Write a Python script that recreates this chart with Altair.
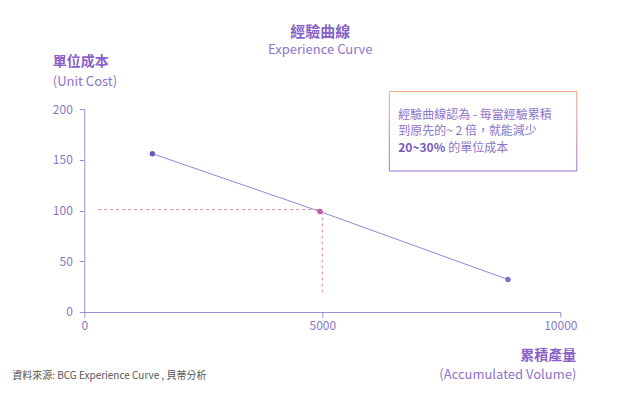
import altair as alt
import pandas as pd

# ---- data ----
volume = [1430, 4950, 8900]
unit_cost = [156, 99, 32]
point_id = ["a", "b", "c"]

guide_h_x = [290, 4950]
guide_h_y = [101]
guide_v_x = [5000]
guide_v_y = [99, 17]

x_ticks = [0, 5000, 10000]
y_ticks = [0, 50, 100, 150, 200]

title_main = "經驗曲線"
title_sub = "Experience Curve"
y_title_1 = "單位成本"
y_title_2 = "(Unit Cost)"
x_title_1 = "累積產量"
x_title_2 = "(Accumulated Volume)"
source_text = "資料來源: BCG Experience Curve , 貝蒂分析"
note_line1 = "經驗曲線認為 - 每當經驗累積"
note_line2 = "到原先的~ 2 倍，就能減少"
note_line3a = "20~30%"
note_line3b = "的單位成本"

FONT = "Noto Sans CJK TC"
AX = "#9a8cd2"
LBL = "#8677c6"
PURPLE = "#8a66c8"

df = pd.DataFrame({"volume": volume, "cost": unit_cost, "pid": point_id})
dfh = pd.DataFrame({"x": [guide_h_x[0]], "x2": [guide_h_x[1]], "y": guide_h_y})
dfv = pd.DataFrame({"x": guide_v_x, "y": [guide_v_y[0]], "y2": [guide_v_y[1]]})

xscale = alt.Scale(domain=[0, 10000], nice=False)
yscale = alt.Scale(domain=[0, 200], nice=False)

xaxis = alt.Axis(values=x_ticks, grid=False, title=None, domainColor=AX, tickColor=AX,
                 labelColor=LBL, labelFontSize=12, labelFont=FONT, tickSize=5,
                 labelPadding=4, labelFlush=False, format="d")
yaxis = alt.Axis(values=y_ticks, grid=False, title=None, domainColor=AX, tickColor=AX,
                 labelColor=LBL, labelFontSize=12, labelFont=FONT, tickSize=5,
                 labelPadding=7, format="d")

base = alt.Chart(df)

line = base.mark_line(color="#9486d4", strokeWidth=1).encode(
    x=alt.X("volume:Q", scale=xscale, axis=xaxis),
    y=alt.Y("cost:Q", scale=yscale, axis=yaxis),
)

hguide = alt.Chart(dfh).mark_rule(color="#e48aa8", strokeDash=[3, 3], strokeWidth=1).encode(
    x=alt.X("x:Q", scale=xscale), x2="x2:Q", y=alt.Y("y:Q", scale=yscale)
)
vguide = alt.Chart(dfv).mark_rule(color="#e48aa8", strokeDash=[3, 3], strokeWidth=1).encode(
    x=alt.X("x:Q", scale=xscale), y=alt.Y("y:Q", scale=yscale), y2="y2:Q"
)

points = base.mark_circle(size=30, opacity=1).encode(
    x=alt.X("volume:Q", scale=xscale),
    y=alt.Y("cost:Q", scale=yscale),
    color=alt.Color("pid:N", scale=alt.Scale(domain=point_id,
                    range=["#6d58c4", "#c25ab4", "#7f6dd0"]), legend=None),
)

one = pd.DataFrame({"k": [0]})


def txt(s, x, y, size=13, bold=False, color=PURPLE, align="left"):
    return alt.Chart(one).mark_text(
        font=FONT, fontSize=size, fontWeight="bold" if bold else "normal",
        color=color, align=align, baseline="middle"
    ).encode(x=alt.value(x), y=alt.value(y), text=alt.value(s))


grad = alt.LinearGradient(
    gradient="linear",
    stops=[alt.GradientStop(color="#f2a882", offset=0),
           alt.GradientStop(color="#9a72c8", offset=1)],
    x1=0, x2=0, y1=0, y2=1,
)
box = alt.Chart(one).mark_rect(fill="white", stroke=grad, strokeWidth=1).encode(
    x=alt.value(305), x2=alt.value(492.5), y=alt.value(-17.5), y2=alt.value(62)
)

texts = [
    txt(title_main, 236, -77.5, size=15, bold=True, color="#8463c6", align="center"),
    txt(title_sub, 236, -59, size=13, color="#8d74cc", align="center"),
    txt(y_title_1, -31.5, -47, size=14, bold=True, color="#8a62c8"),
    txt(y_title_2, -31.5, -27, size=13, color="#8d74cc"),
    txt(x_title_1, 492, 247, size=14, bold=True, color="#8a62c8", align="right"),
    txt(x_title_2, 492, 266.5, size=13, color="#8d74cc", align="right"),
    txt(source_text, -72, 267, size=10, color="#555555"),
    txt(note_line1, 314, 5.5, size=12, color="#8d74cc"),
    txt(note_line2, 314, 22, size=12, color="#8d74cc"),
    txt(note_line3a, 314, 38.5, size=12, bold=True, color="#7a5cbc"),
    txt(note_line3b, 364, 38.5, size=12, color="#8d74cc"),
]

chart = alt.layer(line, hguide, vguide, points, box, *texts).properties(
    width=476, height=203,
    autosize=alt.AutoSizeParams(type="none"),
    padding={"left": 76.3, "top": 101, "right": 40, "bottom": 90},
    background="white",
).configure_view(stroke=None)

chart.save("out.html", embed_options={"renderer": "svg", "actions": False})
